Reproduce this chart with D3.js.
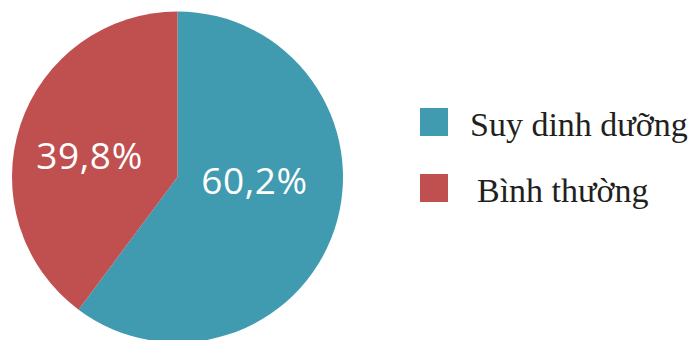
<!DOCTYPE html>
<html>
<head>
<meta charset="utf-8">
<script src="https://cdn.jsdelivr.net/npm/d3@7"></script>
<style>
  body { margin: 0; background: #fff; }
</style>
</head>
<body>
<svg></svg>
<script>
var vWidth = 693;
var vHeight = 340;

// data
var categories = ["Suy dinh dưỡng", "Bình thường"];
var values = [60.2, 39.8];
var labels = ["60,2%", "39,8%"];
var colors = ["#419BB0", "#C0504F"];

var cx = 177.5, cy = 177, vRadius = 165.5;

var svg = d3.select('svg')
    .attr('width', vWidth)
    .attr('height', vHeight);

var g = svg.append('g')
    .attr('transform', 'translate(' + cx + ',' + cy + ')');

var pie = d3.pie().sort(null).value(function (d) { return d; });
var arcs = pie(values);

var arc = d3.arc().innerRadius(0).outerRadius(vRadius);

g.selectAll('path')
    .data(arcs)
    .enter()
    .append('path')
    .attr('d', arc)
    .style('fill', function (d, i) { return colors[i]; });

// percentage labels inside the slices
g.selectAll('text.lbl')
    .data(arcs)
    .enter()
    .append('text')
    .attr('class', 'lbl')
    .attr('x', function (d, i) { return i == 0 ? 77 : -88; })
    .attr('y', function (d, i) { return i == 0 ? 17 : -8; })
    .attr('text-anchor', 'middle')
    .style('font-family', '"Open Sans", sans-serif')
    .style('font-size', '37px')
    .style('letter-spacing', '0.6px')
    .style('fill', '#fff')
    .text(function (d, i) { return labels[i]; });

// legend
var legend = svg.append('g')
    .selectAll('g')
    .data(categories)
    .enter()
    .append('g')
    .attr('transform', function (d, i) { return 'translate(420,' + (108 + i * 66) + ')'; });

legend.append('rect')
    .attr('width', 28)
    .attr('height', 28)
    .style('fill', function (d, i) { return colors[i]; });

legend.append('text')
    .attr('x', function (d, i) { return i == 0 ? 50 : 57; })
    .attr('y', 27.5)
    .style('font-family', '"Liberation Serif", "Times New Roman", serif')
    .style('font-size', '34px')
    .style('fill', '#231f20')
    .text(function (d) { return d; });
</script>
</body>
</html>
